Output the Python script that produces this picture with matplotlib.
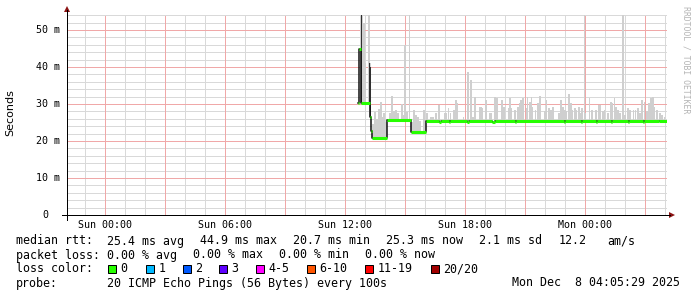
import matplotlib
matplotlib.use('Agg')
import matplotlib.pyplot as plt
import numpy as np
from matplotlib.patches import Rectangle, Polygon
from matplotlib.lines import Line2D
import matplotlib.transforms as mtrans

# ---------------- data ----------------
# time in hours since Sun 00:00
t_start, t_end = -1.9086, 28.0914
y_max = 54.05

x_ticks = [0, 6, 12, 18, 24]
x_ticklabels = ['Sun 00:00', 'Sun 06:00', 'Sun 12:00', 'Sun 18:00', 'Mon 00:00']
y_ticks = [0, 10, 20, 30, 40, 50]
y_ticklabels = ['0', '10 m', '20 m', '30 m', '40 m', '50 m']

# median rtt (ms), step segments starting at median_t
median_t = [12.65, 12.70, 12.80, 13.22, 13.27, 13.35, 14.10, 15.28, 16.03,
            16.70, 16.80, 17.20, 17.25, 18.10, 18.20, 19.35, 19.50, 20.50,
            20.55, 22.95, 23.00, 23.80, 23.85, 24.55, 24.60, 25.30, 25.35,
            26.15, 26.20, 26.90, 26.95, 27.70]
median_v = [30.4, 44.9, 30.4, 26.4, 22.6, 20.7, 25.6, 22.4, 25.4,
            25.1, 25.4, 25.1, 25.4, 25.2, 25.4, 25.1, 25.4, 25.2,
            25.4, 25.2, 25.4, 25.2, 25.4, 25.2, 25.4, 25.2, 25.4,
            25.1, 25.4, 25.2, 25.4, 25.3]
median_end = 28.09

# smoke: max ping per sample (ms)
smoke_t = [12.80, 12.85, 12.90, 12.95, 13.00, 13.20, 13.25,
           13.40, 13.50, 13.60, 13.70, 13.80, 13.85, 13.95, 14.05,
           14.25, 14.33, 14.45, 14.55, 14.65, 14.83, 14.90, 15.00, 15.10, 15.22,
           15.35, 15.45, 15.55, 15.65, 15.75, 15.95,
           16.10, 16.30, 16.40, 16.55, 16.70, 17.00, 17.05, 17.17, 17.27, 17.45,
           17.55, 17.62, 17.92, 18.15, 18.28, 18.38, 18.50, 18.72, 18.78, 18.83,
           19.05, 19.25, 19.30, 19.50, 19.58, 19.83, 19.90, 19.95, 20.17,
           20.23, 20.28, 20.50, 20.65, 20.73, 20.78, 20.90, 21.07, 21.12, 21.23,
           21.32, 21.35, 21.52, 21.65, 21.75, 21.98, 22.07, 22.18, 22.28, 22.40,
           22.68, 22.78, 22.90, 22.98, 23.07, 23.18, 23.28, 23.37, 23.48, 23.57,
           23.68, 23.78, 23.85, 23.97, 24.02,
           24.22, 24.35, 24.55, 24.68, 24.75, 24.88, 24.97, 25.13, 25.30, 25.35,
           25.47, 25.55, 25.63, 25.75, 25.88, 26.00, 26.13, 26.25, 26.42, 26.52,
           26.63, 26.75, 26.85, 26.97, 27.08, 27.18, 27.30, 27.38, 27.47, 27.58,
           27.75, 27.85, 27.97]
smoke_max = [60.0, 60.0, 41.0, 52.0, 41.0, 60.0, 41.0,
             24.5, 27.8, 26.0, 28.6, 30.5, 26.5, 27.6, 25.0,
             27.5, 32.1, 28.1, 28.3, 27.5, 29.9, 27.0, 46.0, 27.8, 60.0,
             25.0, 28.5, 27.0, 26.5, 25.5, 28.5,
             27.5, 26.6, 26.6, 27.5, 29.7, 27.5, 27.5, 28.8, 27.5, 28.4,
             31.1, 30.2, 26.6, 38.7, 36.5, 26.6, 32.0, 29.3, 29.3, 28.8,
             31.2, 27.5, 27.5, 32.0, 31.5, 31.1, 29.3, 29.3, 28.8,
             31.5, 28.8, 28.4, 29.3, 30.2, 31.1, 31.5, 28.8, 32.0, 30.6,
             32.0, 29.3, 28.4, 30.2, 32.2, 28.0, 31.1, 28.8, 28.4, 29.3,
             27.5, 31.1, 29.3, 28.4, 28.0, 32.6, 30.2, 28.4, 28.8, 28.4,
             29.3, 27.5, 28.8, 60.0, 27.5,
             31.5, 28.4, 28.4, 29.7, 29.7, 28.0, 28.4, 27.5, 30.6, 30.2,
             31.5, 29.3, 28.4, 27.5, 60.0, 27.1, 28.8, 28.4, 28.4, 28.4,
             28.8, 27.5, 31.1, 30.6, 28.0, 30.2, 31.5, 32.0, 29.3, 28.4,
             27.5, 27.1, 26.6]
# dense (dark) smoke
dark_t = [12.80, 13.20, 13.25]
dark_max = [60.0, 41.0, 40.0]

loss_labels = ['0', '1', '2', '3', '4-5', '6-10', '11-19', '20/20']
loss_colors = ['#26ff00', '#00b8ff', '#0059ff', '#5e00ff', '#ff00ff',
               '#ff5500', '#ff0000', '#a10000']

rtt_items = ['median rtt:', '25.4 ms avg', '44.9 ms max', '20.7 ms min',
             '25.3 ms now', '2.1 ms sd', '12.2', 'am/s']
loss_items = ['packet loss:', '0.00 % avg', '0.00 % max', '0.00 % min', '0.00 % now']
probe_text = '20 ICMP Echo Pings (56 Bytes) every 100s'
date_text = 'Mon Dec  8 04:05:29 2025'

# ---------------- layout ----------------
W, H = 697, 297
fig = plt.figure(figsize=(W / 100, H / 100), dpi=100)
fig.patch.set_facecolor('white')

def fx(x):
    return x / W

def fy(y):
    return 1 - y / H

X0, X1, YT, YB = 67, 667, 15, 215
ax = fig.add_axes([fx(X0), fy(YB), (X1 - X0) / W, (YB - YT) / H])
ax.set_xlim(t_start, t_end)
ax.set_ylim(0, y_max)
ax.set_facecolor('white')
for s in ax.spines.values():
    s.set_visible(False)
ax.set_xticks([])
ax.set_yticks([])

PX = 0.72  # one pixel in points
dot = (0, (1, 1))
minor_col, major_col = '#d9d9d9', '#f0a8a8'
for h in np.arange(np.ceil(t_start), t_end, 1.0):
    major = (int(round(h)) % 3 == 0)
    ax.axvline(h, color=major_col if major else minor_col, lw=PX, ls=dot,
               zorder=1.5 if major else 1, antialiased=False)
for v in np.arange(2, y_max, 2):
    major = (int(round(v)) % 10 == 0)
    ax.axhline(v, color=major_col if major else minor_col, lw=PX, ls=dot,
               zorder=1.5 if major else 1, antialiased=False)

# median lookup
mt = np.array(median_t)
mv = np.array(median_v)

def med_at(t):
    idx = np.searchsorted(mt, t, side='right') - 1
    return mv[np.clip(idx, 0, len(mv) - 1)]

st = np.array(smoke_t)
sm = np.minimum(np.array(smoke_max), y_max + 1)
sb = med_at(st)
ax.bar(st, sm - sb, bottom=sb, width=0.075, color='#cfcfcf', lw=0, zorder=2)
dt = np.array(dark_t)
dm = np.minimum(np.array(dark_max), y_max + 1)
db = med_at(dt)
ax.bar(dt, dm - db, bottom=db, width=0.05, color='#303030', lw=0, zorder=2.5)

# median line: black step, green per-segment
xs = list(median_t) + [median_end]
ys = list(median_v) + [median_v[-1]]
ax.plot(xs, ys, drawstyle='steps-post', color='#111111', lw=1.1, zorder=3)
ends = list(median_t[1:]) + [median_end]
ax.hlines(median_v, median_t, ends, colors=loss_colors[0], lw=2.2, zorder=4,
          capstyle='butt')

# axes lines and arrows
fig.add_artist(Line2D([fx(X0), fx(X0)], [fy(220), fy(10)], color='black', lw=PX))
fig.add_artist(Line2D([fx(62), fx(670)], [fy(YB), fy(YB)], color='black', lw=PX))
arrow_c = '#8b1212'
fig.add_artist(Polygon([[fx(X0 - 3), fy(12)], [fx(X0 + 3), fy(12)], [fx(X0), fy(6)]],
                       closed=True, color=arrow_c, lw=0))
fig.add_artist(Polygon([[fx(669), fy(YB - 3)], [fx(669), fy(YB + 3)], [fx(675), fy(YB)]],
                       closed=True, color=arrow_c, lw=0))

mono = 'DejaVu Sans Mono'
# y tick labels
ytr = mtrans.blended_transform_factory(fig.transFigure, ax.transData)
cw_small = 6.02
for v, lab in zip(y_ticks, y_ticklabels):
    pad = 0 if ' ' in lab else 2
    ax.text(fx(60 - pad * cw_small), v, lab, transform=ytr, ha='right', va='center',
            fontsize=7.2, family=mono, color='black')
# x tick labels
xtr = mtrans.blended_transform_factory(ax.transData, fig.transFigure)
for h, lab in zip(x_ticks, x_ticklabels):
    ax.text(h, fy(225), lab, transform=xtr, ha='center', va='center',
            fontsize=7.2, family=mono, color='black')

fig.text(fx(10), fy(113), 'Seconds', rotation=90, ha='center', va='center',
         fontsize=8, family='DejaVu Sans', color='black')
fig.text(fx(686), fy(60), 'RRDTOOL / TOBI OETIKER', rotation=270, ha='center',
         va='center', fontsize=5.9, family=mono, color='#b4b4b4')

fs = 8.34
rtt_x = [16, 107.3, 200.3, 293.3, 386.3, 479.3, 558.3, 607.3]
for x, s in zip(rtt_x, rtt_items):
    fig.text(fx(x), fy(241), s, ha='left', va='center', fontsize=fs, family=mono)
loss_x = [16, 107.3, 193.3, 279.3, 365.3]
for x, s in zip(loss_x, loss_items):
    fig.text(fx(x), fy(255), s, ha='left', va='center', fontsize=fs, family=mono)
fig.text(fx(16), fy(269), 'loss color:', ha='left', va='center', fontsize=fs, family=mono)
sq_x = [108, 146, 183, 219, 256, 307, 365, 431]
for x, lab, c in zip(sq_x, loss_labels, loss_colors):
    fig.add_artist(Rectangle((fx(x), fy(273)), 8 / W, 8 / H, facecolor=c,
                             edgecolor='black', lw=PX))
    fig.text(fx(x + 12.5), fy(269), lab, ha='left', va='center', fontsize=fs, family=mono)
fig.text(fx(16), fy(283), 'probe:', ha='left', va='center', fontsize=fs, family=mono)
fig.text(fx(107.3), fy(283), probe_text, ha='left', va='center', fontsize=fs, family=mono)
fig.text(fx(680), fy(283), date_text, ha='right', va='center', fontsize=fs, family=mono)

fig.savefig('out.png', dpi=100, facecolor='white')
